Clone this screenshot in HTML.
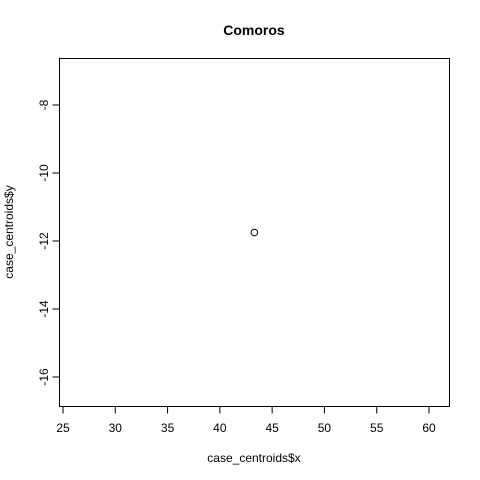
<!DOCTYPE html>
<html><head><meta charset="utf-8"><style>body{margin:0;background:#fff}svg{display:block}text{font-family:"Liberation Sans",Arial,sans-serif;fill:#000}</style></head>
<body>
<svg id="chart" width="480" height="480" xmlns="http://www.w3.org/2000/svg">
<text x="254" y="35" text-anchor="middle" font-size="14" font-weight="bold">Comoros</text>
<rect x="59.5" y="58.5" width="390" height="348" fill="none" stroke="#000" stroke-width="1"/>
<text x="254" y="462" text-anchor="middle" font-size="12">case_centroids$x</text>
<text transform="translate(13,232) rotate(-90)" text-anchor="middle" font-size="12">case_centroids$y</text>
<g id="xaxis"></g>
<g id="yaxis"></g>
<g id="points"></g>
</svg>
<script>
const xTicks = [25, 30, 35, 40, 45, 50, 55, 60];
const yTicks = [-8, -10, -12, -14, -16];
const xValues = [43.3];
const yValues = [-11.75];
const NS = "http://www.w3.org/2000/svg";
function sx(v){ return 63 + (v - 25) * (366 / 35); }
function sy(v){ return 105 + (-8 - v) * 34; }
function mk(tag, attrs, parent){ const e=document.createElementNS(NS,tag); for(const k in attrs) e.setAttribute(k,attrs[k]); parent.appendChild(e); return e; }
const xa=document.getElementById('xaxis'), ya=document.getElementById('yaxis'), pts=document.getElementById('points');
mk('line',{x1:sx(xTicks[0]),x2:sx(xTicks[xTicks.length-1]),y1:406.5,y2:406.5,stroke:'#000'},xa);
xTicks.forEach(t=>{
  const l=mk('line',{x1:sx(t),x2:sx(t),y1:406.5,y2:413.5,stroke:'#000'},xa);
  
  
  const tx=mk('text',{x:sx(t),y:432,'text-anchor':'middle','font-size':12},xa);
  tx.textContent=t;
  
  
});
mk('line',{x1:59.5,x2:59.5,y1:sy(yTicks[0]),y2:sy(yTicks[yTicks.length-1]),stroke:'#000'},ya);
yTicks.forEach(t=>{
  const l=mk('line',{x1:52.5,x2:59.5,y1:sy(t),y2:sy(t),stroke:'#000'},ya);
  
  
  const tx=mk('text',{transform:`translate(48,${sy(t)}) rotate(-90)`,'text-anchor':'middle','font-size':12},ya);
  tx.textContent=t;
  
  
});
xValues.forEach((v,i)=>{
  const c=mk('circle',{cx:sx(v),cy:sy(yValues[i]),r:3.3,fill:'none',stroke:'#000','stroke-width':1},pts);
  
  
});
</script>
</body></html>
